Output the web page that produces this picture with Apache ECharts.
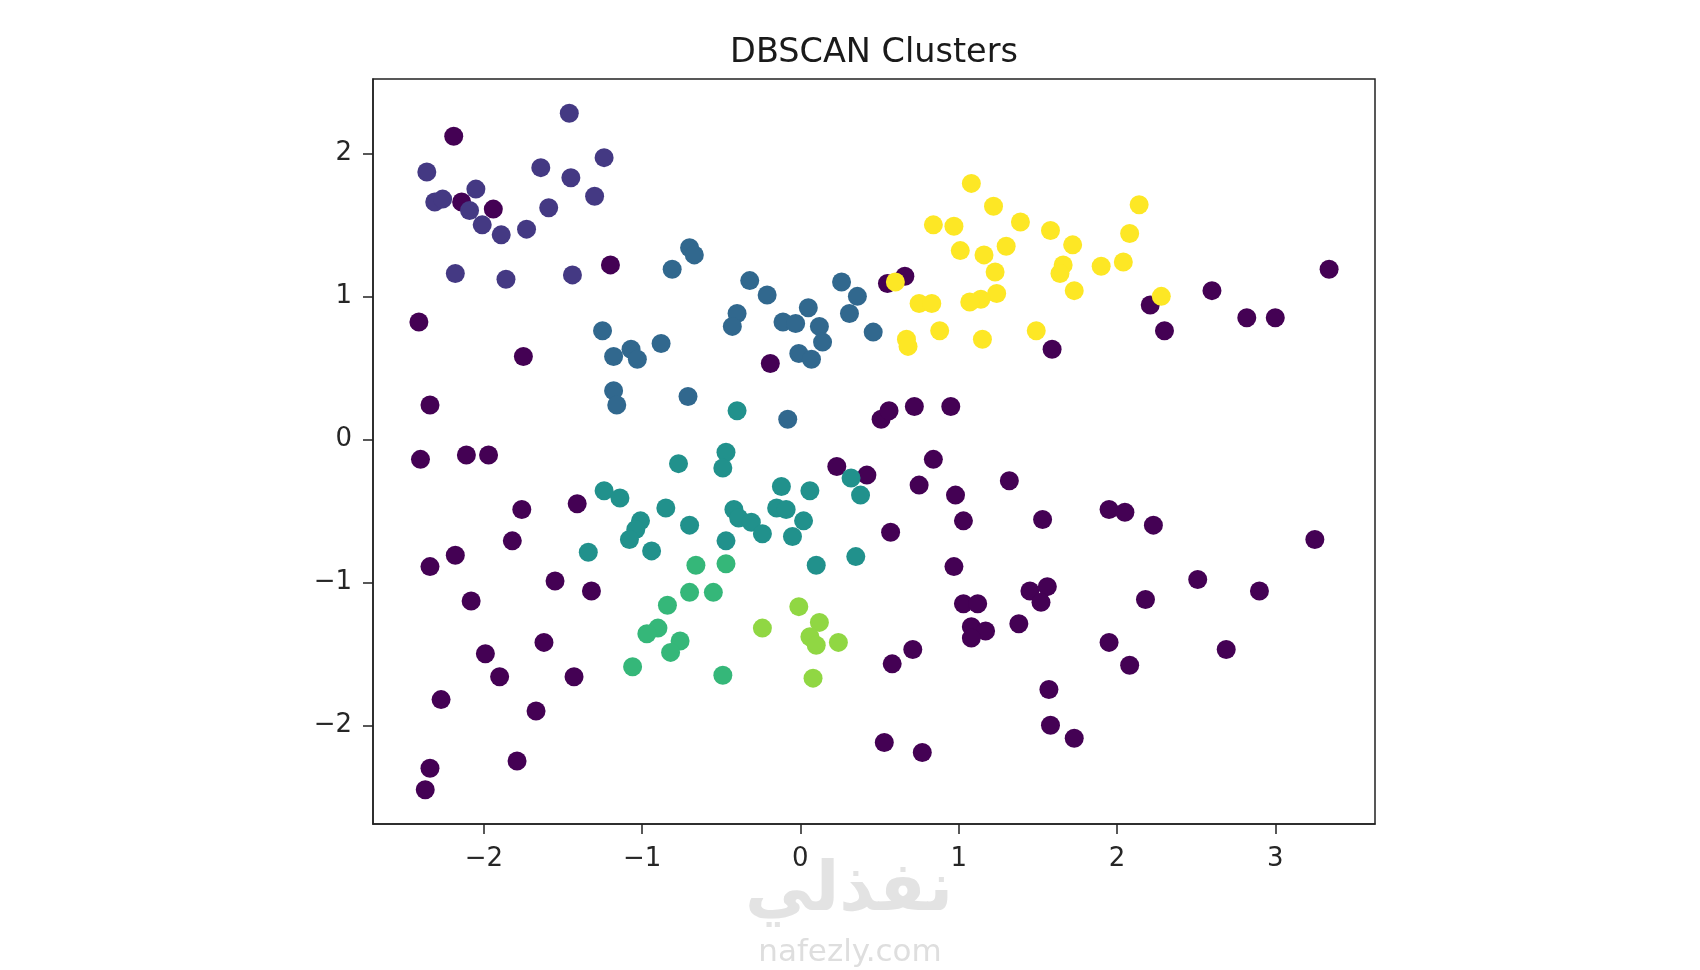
<!DOCTYPE html>
<html>
<head>
<meta charset="utf-8">
<script src="https://cdn.jsdelivr.net/npm/echarts@6/dist/echarts.min.js"></script>
<style>
html,body{margin:0;padding:0;background:#fff;}
#chart{width:1700px;height:970px;}
</style>
</head>
<body>
<div id="chart"></div>
<script>
const titleText = 'DBSCAN Clusters';
const xTicks = [-2, -1, 0, 1, 2, 3];
const yTicks = [-2, -1, 0, 1, 2];

const noise = [
  [-2.19,2.12],[-2.14,1.66],[-1.94,1.61],[-1.20,1.22],[-2.41,0.82],[-1.75,0.58],[-2.34,0.24],
  [-2.40,-0.14],[-2.11,-0.11],[-1.97,-0.11],[-1.76,-0.49],[-1.41,-0.45],[-1.82,-0.71],[-2.18,-0.81],
  [-2.34,-0.89],[-1.55,-0.99],[-1.32,-1.06],[-2.08,-1.13],[-1.99,-1.50],[-1.62,-1.42],[-1.90,-1.66],
  [-1.43,-1.66],[-2.27,-1.82],[-1.67,-1.90],[-1.79,-2.25],[-2.34,-2.30],[-2.37,-2.45],[-0.19,0.53],
  [0.55,1.09],[0.66,1.14],[2.21,0.94],[2.30,0.76],[1.59,0.63],[2.60,1.04],[2.82,0.85],[3.00,0.85],
  [3.34,1.19],[0.51,0.14],[0.56,0.20],[0.72,0.23],[0.95,0.23],[0.23,-0.19],[0.42,-0.25],[0.84,-0.14],
  [0.75,-0.32],[1.32,-0.29],[0.98,-0.39],[1.03,-0.57],[1.53,-0.56],[1.95,-0.49],[2.05,-0.51],[2.23,-0.60],
  [3.25,-0.70],[0.57,-0.65],[0.97,-0.89],[1.45,-1.06],[1.56,-1.03],[1.03,-1.15],[1.12,-1.15],[1.52,-1.14],
  [2.51,-0.98],[2.90,-1.06],[2.18,-1.12],[1.08,-1.31],[1.17,-1.34],[1.38,-1.29],[1.08,-1.39],[1.95,-1.42],
  [2.08,-1.58],[2.69,-1.47],[0.71,-1.47],[0.58,-1.57],[1.57,-1.75],[1.58,-2.00],[1.73,-2.09],[0.53,-2.12],
  [0.77,-2.19]
];
const cluster0 = [
  [-1.46,2.28],[-2.36,1.87],[-1.64,1.90],[-1.24,1.97],[-1.45,1.83],[-2.05,1.75],[-1.30,1.70],
  [-2.31,1.66],[-2.26,1.68],[-2.09,1.60],[-1.59,1.62],[-2.01,1.50],[-1.89,1.43],[-1.73,1.47],
  [-2.18,1.16],[-1.86,1.12],[-1.44,1.15]
];
const cluster1 = [
  [-0.70,1.34],[-0.67,1.29],[-0.81,1.19],[-0.32,1.11],[0.26,1.10],[-0.21,1.01],[0.36,1.00],
  [0.05,0.92],[-0.40,0.88],[0.31,0.88],[-0.43,0.79],[-0.11,0.82],[-0.03,0.81],[0.12,0.79],
  [0.46,0.75],[-1.25,0.76],[-0.88,0.67],[0.14,0.68],[-1.07,0.63],[-1.18,0.58],[-1.03,0.56],
  [-0.01,0.60],[0.07,0.56],[-1.18,0.34],[-1.16,0.24],[-0.71,0.30],[-0.08,0.14]
];
const cluster2 = [
  [-0.40,0.20],[-0.47,-0.09],[-0.49,-0.20],[-0.77,-0.17],[-1.24,-0.36],[-1.14,-0.41],[-0.12,-0.33],
  [0.06,-0.36],[0.32,-0.27],[0.38,-0.39],[-0.85,-0.48],[-0.15,-0.48],[-0.09,-0.49],[-0.42,-0.49],
  [-0.39,-0.55],[-1.01,-0.57],[0.02,-0.57],[-0.70,-0.60],[-1.04,-0.63],[-1.08,-0.70],[-0.31,-0.58],
  [-0.24,-0.66],[-0.05,-0.68],[-0.47,-0.71],[-0.94,-0.78],[-1.34,-0.79],[0.35,-0.82],[0.10,-0.88]
];
const cluster3 = [
  [-0.66,-0.88],[-0.47,-0.87],[-0.70,-1.07],[-0.55,-1.07],[-0.84,-1.16],[-0.90,-1.32],
  [-0.97,-1.36],[-0.76,-1.41],[-0.82,-1.49],[-1.06,-1.59],[-0.49,-1.65]
];
const cluster4 = [
  [-0.01,-1.17],[0.12,-1.28],[-0.24,-1.32],[0.06,-1.38],[0.10,-1.44],[0.24,-1.42],[0.08,-1.67]
];
const cluster5 = [
  [1.08,1.79],[2.14,1.64],[1.22,1.63],[0.84,1.50],[0.97,1.49],[1.39,1.52],[1.58,1.46],[2.08,1.44],
  [1.72,1.36],[1.01,1.32],[1.30,1.35],[1.16,1.29],[1.66,1.22],[2.04,1.24],[1.90,1.21],[1.23,1.17],
  [1.64,1.16],[0.60,1.10],[1.73,1.04],[1.24,1.02],[1.14,0.98],[1.07,0.96],[2.28,1.00],[0.75,0.95],
  [0.83,0.95],[0.88,0.76],[1.49,0.76],[0.67,0.70],[0.68,0.65],[1.15,0.70]
];

const groups = [
  {name:'noise', data:noise, color:'#440154'},
  {name:'0', data:cluster0, color:'#443983'},
  {name:'1', data:cluster1, color:'#31688e'},
  {name:'2', data:cluster2, color:'#21918c'},
  {name:'3', data:cluster3, color:'#35b779'},
  {name:'4', data:cluster4, color:'#90d743'},
  {name:'5', data:cluster5, color:'#fde725'}
];

const fmt = v => (v < 0 ? '\u2212' + Math.abs(v) : String(v));
const font = 'DejaVu Sans';

const chart = echarts.init(document.getElementById('chart'), null, {renderer:'canvas'});
chart.setOption({
  backgroundColor:'#fff',
  animation:false,
  title:{
    text:titleText, left:869, top:31, textAlign:'center',
    textStyle:{fontFamily:font, fontSize:33.5, fontWeight:'normal', color:'#1a1a1a'}
  },
  grid:{left:373, top:79, width:1002, height:745, show:true, borderColor:'#222', borderWidth:1.5, backgroundColor:'transparent'},
  xAxis:{
    type:'value', min:-2.70, max:3.63,
    splitLine:{show:false},
    axisLine:{show:true, onZero:false, lineStyle:{color:'#222', width:1.5}},
    axisTick:{show:true, length:10, customValues:xTicks, lineStyle:{color:'#222', width:1.5}},
    axisLabel:{customValues:xTicks, formatter:fmt, fontFamily:font, fontSize:26, color:'#262626', margin:22}
  },
  yAxis:{
    type:'value', min:-2.69, max:2.52,
    splitLine:{show:false},
    axisLine:{show:true, onZero:false, lineStyle:{color:'#222', width:1.5}},
    axisTick:{show:true, length:10, customValues:yTicks, lineStyle:{color:'#222', width:1.5}},
    axisLabel:{customValues:yTicks, formatter:fmt, fontFamily:font, fontSize:26, color:'#262626', margin:21}
  },
  series: groups.map(g => ({
    type:'scatter', name:g.name, data:g.data, symbolSize:19,
    itemStyle:{color:g.color, opacity:1}
  })),
  graphic:[
    {type:'text', x:849, y:858, z:-1, style:{text:'نفذلي', fontFamily:'DejaVu Sans', fontSize:68, fontWeight:'bold', fill:'#e3e3e3', textAlign:'center', textVerticalAlign:'top'}},
    {type:'text', x:850, y:937, z:-1, style:{text:'nafezly.com', fontFamily:font, fontSize:31, fill:'#dedede', textAlign:'center', textVerticalAlign:'top'}}
  ]
});
</script>
</body>
</html>
